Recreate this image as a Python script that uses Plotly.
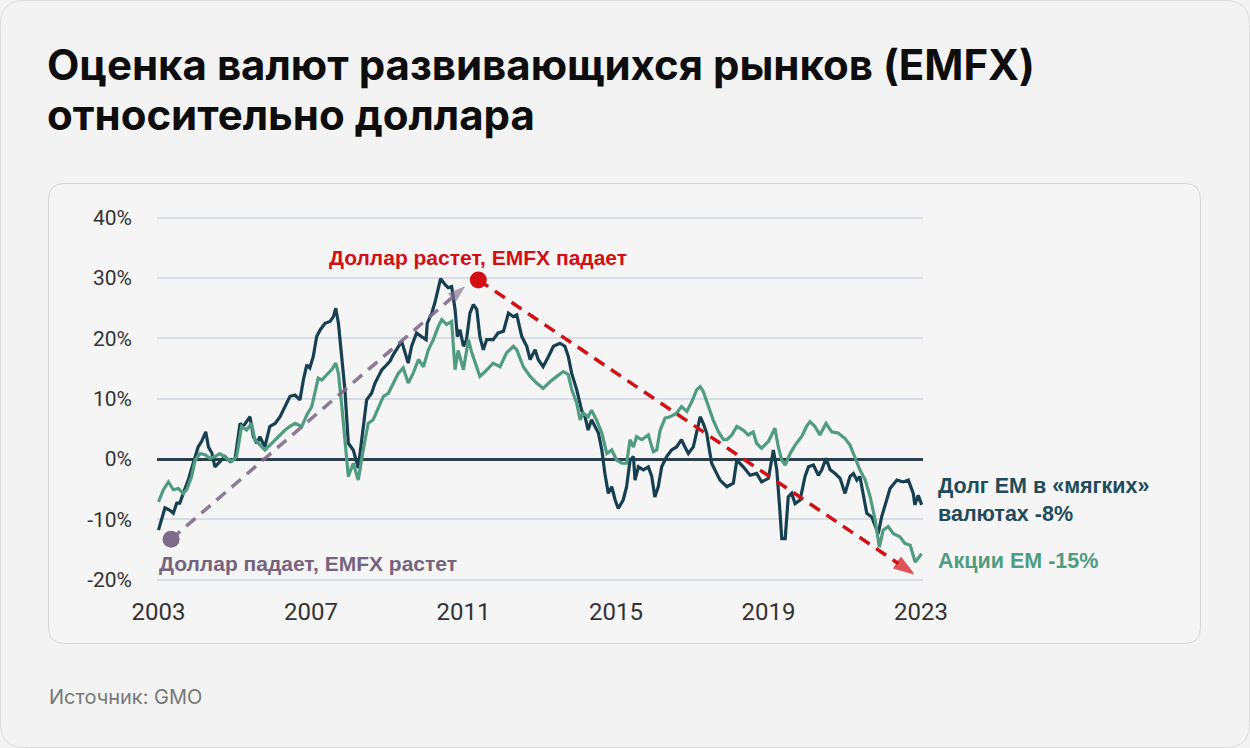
import plotly.graph_objects as go

# ---------------- data ----------------
debt_years = [2003.00, 2003.08, 2003.17, 2003.30, 2003.39, 2003.48, 2003.56, 2003.65, 2003.78, 2003.91,
              2004.04, 2004.13, 2004.24, 2004.31, 2004.40, 2004.48, 2004.61, 2004.74, 2004.88, 2005.01,
              2005.14, 2005.22, 2005.31, 2005.40, 2005.49, 2005.58, 2005.66, 2005.79, 2005.92, 2006.06,
              2006.19, 2006.32, 2006.45, 2006.58, 2006.71, 2006.80, 2006.89, 2006.97, 2007.06, 2007.15,
              2007.24, 2007.37, 2007.50, 2007.59, 2007.65, 2007.72, 2007.81, 2007.89, 2007.98, 2008.11,
              2008.24, 2008.37, 2008.46, 2008.59, 2008.68, 2008.77, 2008.86, 2008.94, 2009.07, 2009.16,
              2009.29, 2009.38, 2009.47, 2009.55, 2009.64, 2009.77, 2009.90, 2010.02, 2010.05, 2010.17,
              2010.25, 2010.34, 2010.40, 2010.52, 2010.60, 2010.69, 2010.78, 2010.84, 2010.91, 2011.00,
              2011.08, 2011.17, 2011.26, 2011.35, 2011.43, 2011.52, 2011.61, 2011.78, 2011.91, 2012.05,
              2012.18, 2012.31, 2012.40, 2012.53, 2012.66, 2012.75, 2012.88, 2012.96, 2013.09, 2013.23,
              2013.36, 2013.53, 2013.66, 2013.75, 2013.84, 2013.97, 2014.10, 2014.19, 2014.27, 2014.36,
              2014.45, 2014.54, 2014.63, 2014.71, 2014.80, 2014.89, 2014.98, 2015.06, 2015.19, 2015.28,
              2015.37, 2015.46, 2015.50, 2015.59, 2015.72, 2015.85, 2015.94, 2016.02, 2016.11, 2016.20,
              2016.33, 2016.46, 2016.59, 2016.72, 2016.81, 2016.90, 2017.03, 2017.12, 2017.21, 2017.29,
              2017.38, 2017.51, 2017.60, 2017.73, 2017.91, 2018.08, 2018.17, 2018.34, 2018.52, 2018.69,
              2018.82, 2019.00, 2019.13, 2019.22, 2019.30, 2019.35, 2019.44, 2019.52, 2019.61, 2019.70,
              2019.83, 2019.96, 2020.05, 2020.18, 2020.31, 2020.40, 2020.51, 2020.62, 2020.75, 2020.88,
              2021.01, 2021.14, 2021.23, 2021.32, 2021.40, 2021.49, 2021.58, 2021.71, 2021.80, 2021.88,
              2021.97, 2022.10, 2022.19, 2022.37, 2022.54, 2022.67, 2022.80, 2022.84, 2022.93, 2023.02]
debt_values = [-11.8, -10.1, -8.1, -8.5, -9.0, -7.3, -7.3, -5.7, -3.5, -0.7,
               2.0, 2.9, 4.5, 2.0, 1.0, -1.3, -0.4, 0.4, -0.4, 0.1,
               5.9, 5.4, 6.2, 7.0, 3.7, 2.6, 3.7, 2.0, 5.4, 5.9,
               7.0, 8.7, 10.4, 10.6, 9.8, 13.1, 15.6, 15.1, 17.0, 20.3,
               21.4, 22.5, 22.8, 23.6, 25.0, 22.5, 17.0, 11.5, 2.6, 1.5,
               -1.5, 5.4, 9.8, 10.9, 12.6, 13.7, 14.8, 15.3, 16.2, 17.3,
               18.7, 19.5, 17.6, 15.9, 18.7, 20.9, 20.3, 19.8, 22.5, 24.2,
               25.9, 28.6, 29.9, 28.9, 28.4, 28.6, 24.8, 20.3, 21.4, 18.7,
               19.8, 24.2, 25.6, 24.8, 20.3, 18.1, 19.8, 19.8, 20.9, 21.2,
               24.2, 23.6, 23.9, 20.3, 18.7, 16.5, 18.1, 16.5, 15.3, 17.0,
               18.7, 19.2, 18.7, 17.0, 14.2, 11.5, 8.1, 7.0, 4.8, 6.5,
               5.4, 4.3, 1.5, -2.4, -5.7, -4.6, -6.8, -8.2, -6.8, -4.6,
               -0.2, 0.4, -3.5, -1.3, -1.8, -1.3, -2.9, -6.3, -4.6, -1.3,
               0.4, 1.5, 2.0, 3.2, 2.0, 0.9, 2.0, 4.3, 7.0, 5.9,
               4.3, -0.7, -1.8, -3.5, -4.6, -4.0, -0.2, -1.3, -2.7, -2.4,
               -3.8, -3.2, 1.5, -1.8, -8.5, -13.2, -13.2, -6.3, -5.7, -7.4,
               -6.8, -2.9, -1.3, -1.0, -2.7, -1.8, 0.1, -1.8, -2.4, -3.2,
               -5.7, -2.9, -2.4, -3.5, -2.9, -5.7, -9.0, -9.6, -11.2, -12.4,
               -9.6, -6.8, -4.9, -3.5, -3.8, -3.5, -5.7, -7.6, -6.0, -7.6]

equity_years = [2003.00, 2003.13, 2003.26, 2003.39, 2003.52, 2003.65, 2003.74, 2003.87, 2003.96, 2004.09,
                2004.22, 2004.35, 2004.48, 2004.61, 2004.79, 2004.92, 2005.05, 2005.18, 2005.31, 2005.44,
                2005.53, 2005.66, 2005.79, 2005.97, 2006.14, 2006.32, 2006.45, 2006.58, 2006.76, 2006.89,
                2007.02, 2007.11, 2007.19, 2007.28, 2007.41, 2007.54, 2007.65, 2007.72, 2007.81, 2007.89,
                2007.98, 2008.11, 2008.24, 2008.37, 2008.50, 2008.63, 2008.77, 2008.90, 2009.03, 2009.16,
                2009.29, 2009.42, 2009.55, 2009.68, 2009.82, 2009.95, 2010.08, 2010.21, 2010.34, 2010.43,
                2010.56, 2010.69, 2010.78, 2010.86, 2011.00, 2011.13, 2011.22, 2011.43, 2011.57, 2011.78,
                2011.96, 2012.13, 2012.31, 2012.40, 2012.57, 2012.75, 2012.92, 2013.09, 2013.27, 2013.45,
                2013.62, 2013.75, 2013.84, 2013.97, 2014.06, 2014.14, 2014.27, 2014.36, 2014.49, 2014.63,
                2014.76, 2014.89, 2015.02, 2015.15, 2015.28, 2015.37, 2015.46, 2015.54, 2015.68, 2015.85,
                2015.98, 2016.07, 2016.16, 2016.29, 2016.42, 2016.59, 2016.72, 2016.86, 2016.99, 2017.12,
                2017.21, 2017.29, 2017.42, 2017.55, 2017.69, 2017.82, 2017.91, 2018.04, 2018.17, 2018.34,
                2018.47, 2018.60, 2018.69, 2018.82, 2019.00, 2019.17, 2019.26, 2019.35, 2019.44, 2019.57,
                2019.70, 2019.87, 2020.00, 2020.09, 2020.22, 2020.35, 2020.51, 2020.66, 2020.83, 2021.01,
                2021.14, 2021.27, 2021.40, 2021.54, 2021.67, 2021.80, 2021.91, 2022.01, 2022.14, 2022.28,
                2022.45, 2022.58, 2022.72, 2022.85, 2022.96, 2023.02]
equity_values = [-7.1, -5.1, -3.8, -5.1, -4.9, -5.7, -5.1, -2.9, -0.2, 0.9,
                 0.7, 0.1, 0.4, 0.9, 0.1, -0.4, 0.4, 5.4, 4.8, 5.9,
                 3.2, 2.3, 1.5, 2.6, 3.7, 4.8, 5.4, 5.9, 5.4, 7.3,
                 8.7, 11.5, 13.4, 13.1, 14.0, 14.8, 15.9, 14.2, 8.7, 3.2,
                 -2.9, -0.7, -3.5, 1.5, 5.9, 6.5, 8.7, 10.4, 10.9, 12.6,
                 14.2, 15.1, 12.6, 14.2, 16.5, 15.3, 18.1, 19.8, 22.0, 23.1,
                 22.3, 22.8, 14.8, 18.0, 14.8, 19.8, 17.6, 13.7, 14.5, 15.9,
                 15.3, 17.6, 18.7, 18.1, 15.3, 13.7, 12.6, 11.7, 12.8, 13.7,
                 14.5, 14.0, 11.5, 9.3, 6.5, 7.6, 7.0, 8.1, 6.5, 4.3,
                 0.9, 1.5, -0.2, -0.7, -0.7, 3.2, 2.0, 3.7, 3.2, 4.0,
                 1.2, 1.5, 4.8, 6.8, 7.0, 7.6, 8.7, 7.9, 9.5, 11.5,
                 12.0, 11.2, 8.7, 6.5, 4.5, 3.2, 3.2, 4.0, 5.4, 4.8,
                 4.0, 4.5, 2.6, 1.8, 2.9, 5.1, 2.0, -0.2, -1.0, 0.9,
                 2.3, 3.7, 5.4, 6.2, 5.4, 4.0, 5.9, 4.5, 4.3, 3.4,
                 2.3, 0.4, -1.8, -3.5, -6.3, -10.1, -14.6, -11.8, -11.2, -12.4,
                 -12.9, -14.0, -14.3, -17.1, -16.2, -15.7]

x_ticks = [2003, 2007, 2011, 2015, 2019, 2023]
y_ticks = [-20, -10, 0, 10, 20, 30, 40]
y_tick_labels = ["-20%", "-10%", "0%", "10%", "20%", "30%", "40%"]

# trend arrows (year, value)
down_start = (2003.33, -13.3)   # "Доллар падает" dot
up_peak = (2011.39, 29.7)       # "Доллар растет" dot
up_arrow_end = (2011.02, 28.5)
down_arrow_end = (2022.80, -19.0)

title_line1 = "Оценка валют развивающихся рынков (EMFX)"
title_line2 = "относительно доллара"
source_text = "Источник: GMO"

# ---------------- layout helpers ----------------
W, H = 1250, 748
L, R, T, B = 157, 923, 215, 583
PW, PH = R - L, B - T


def px(x):
    return (x - L) / PW


def py(y):
    return (B - y) / PH


def rrect(x0, y0, x1, y1, r):
    pts = [
        ("M", [(x0 + r, y0)]), ("L", [(x1 - r, y0)]), ("Q", [(x1, y0), (x1, y0 + r)]),
        ("L", [(x1, y1 - r)]), ("Q", [(x1, y1), (x1 - r, y1)]), ("L", [(x0 + r, y1)]),
        ("Q", [(x0, y1), (x0, y1 - r)]), ("L", [(x0, y0 + r)]), ("Q", [(x0, y0), (x0 + r, y0)]),
    ]
    s = ""
    for cmd, ps in pts:
        s += cmd + " " + " ".join(f"{px(a):.5f},{py(b):.5f}" for a, b in ps) + " "
    return s + "Z"


DARK = "#173f52"
GREEN = "#4f9c80"
RED = "#d40f14"
PURPLE = "rgba(128,108,140,0.9)"
TICKFONT = "Roboto, sans-serif"
LABELFONT = "Liberation Sans, Arial, sans-serif"

fig = go.Figure()

fig.add_trace(go.Scatter(x=debt_years, y=debt_values, mode="lines",
                         line=dict(color=DARK, width=3.2), hoverinfo="skip"))
fig.add_trace(go.Scatter(x=equity_years, y=equity_values, mode="lines",
                         line=dict(color=GREEN, width=3.2), hoverinfo="skip"))

# purple dashed arrow (up)
fig.add_trace(go.Scatter(x=[down_start[0], up_arrow_end[0]], y=[down_start[1], up_arrow_end[1]],
                         mode="lines+markers", cliponaxis=False,
                         line=dict(color=PURPLE, width=3.5, dash="12px,8px"),
                         marker=dict(symbol="arrow", size=[0, 17], color=PURPLE,
                                     angleref="previous", line=dict(width=1, color=PURPLE)),
                         hoverinfo="skip"))
fig.add_trace(go.Scatter(x=[down_start[0]], y=[down_start[1]], mode="markers",
                         marker=dict(symbol="circle", size=17, color="#7e6a8a", line=dict(width=0)),
                         hoverinfo="skip"))
# red dashed arrow (down)
fig.add_trace(go.Scatter(x=[up_peak[0], down_arrow_end[0]], y=[up_peak[1], down_arrow_end[1]],
                         mode="lines+markers", cliponaxis=False,
                         line=dict(color=RED, width=3.5, dash="12px,8px"),
                         marker=dict(symbol="arrow", size=[0, 20], color=RED,
                                     angleref="previous", line=dict(width=1.5, color=RED)),
                         hoverinfo="skip"))
fig.add_trace(go.Scatter(x=[up_peak[0]], y=[up_peak[1]], mode="markers",
                         marker=dict(symbol="circle", size=17, color=RED, line=dict(width=0)),
                         hoverinfo="skip"))

shapes = [
    dict(type="path", xref="paper", yref="paper", layer="below",
         path=rrect(0.5, 0.5, W - 0.5, H - 0.5, 24),
         line=dict(color="#dcdcdc", width=1), fillcolor="#f3f3f3"),
    dict(type="path", xref="paper", yref="paper", layer="below",
         path=rrect(48.5, 183.5, 1200.5, 643.5, 16),
         line=dict(color="#d6d6d6", width=1), fillcolor="#f5f5f5"),
]

annotations = [
    dict(text=title_line1, xref="paper", yref="paper", x=px(45), y=py(37),
         xanchor="left", yanchor="top", align="left", showarrow=False,
         font=dict(family="Inter, Roboto, sans-serif", size=42, color="#0d0d0d", weight=700)),
    dict(text=title_line2, xref="paper", yref="paper", x=px(45), y=py(87),
         xanchor="left", yanchor="top", align="left", showarrow=False,
         font=dict(family="Inter, Roboto, sans-serif", size=42, color="#0d0d0d", weight=700)),
    dict(text=source_text, xref="paper", yref="paper", x=px(47), y=py(697),
         xanchor="left", yanchor="middle", showarrow=False,
         font=dict(family="Inter, Roboto, sans-serif", size=20, color="#777777")),
    dict(text="Доллар растет, EMFX падает", xref="paper", yref="paper", x=px(327), y=py(257),
         xanchor="left", yanchor="middle", showarrow=False,
         font=dict(family=LABELFONT, size=21, color=RED, weight=700)),
    dict(text="Доллар падает, EMFX растет", xref="paper", yref="paper", x=px(157), y=py(563),
         xanchor="left", yanchor="middle", showarrow=False,
         font=dict(family=LABELFONT, size=21, color="#76647f", weight=700)),
    dict(text="Долг EM в «мягких»<br>валютах -8%", xref="paper", yref="paper", x=px(936), y=py(500),
         xanchor="left", yanchor="middle", align="left", showarrow=False,
         font=dict(family=LABELFONT, size=21.5, color="#1f4b5a", weight=700)),
    dict(text="Акции EM -15%", xref="paper", yref="paper", x=px(936), y=py(561),
         xanchor="left", yanchor="middle", showarrow=False,
         font=dict(family=LABELFONT, size=21.5, color=GREEN, weight=700)),
]

fig.update_layout(
    width=W, height=H,
    margin=dict(l=L, r=W - R, t=T, b=H - B, pad=0),
    paper_bgcolor="#f3f3f3", plot_bgcolor="rgba(0,0,0,0)",
    showlegend=False,
    shapes=shapes, annotations=annotations,
    xaxis=dict(range=[2002.961, 2023.055], tickvals=x_ticks, ticktext=[str(t) for t in x_ticks],
               showgrid=False, zeroline=False, showline=False, ticks="",
               tickfont=dict(family=TICKFONT, size=24, color="#333333"), ticklabelstandoff=12,
               fixedrange=True),
    yaxis=dict(range=[-20.56, 40.46], tickvals=y_ticks, ticktext=y_tick_labels,
               showgrid=True, gridcolor="#d7dde2", gridwidth=2,
               zeroline=True, zerolinecolor="#2d3e48", zerolinewidth=2.5,
               showline=False, ticks="",
               tickfont=dict(family=TICKFONT, size=21, color="#333333"), ticklabelstandoff=24,
               fixedrange=True),
)

fig.write_html("out.html", config={"displayModeBar": False},
               post_script="document.body.style.margin='0';")
